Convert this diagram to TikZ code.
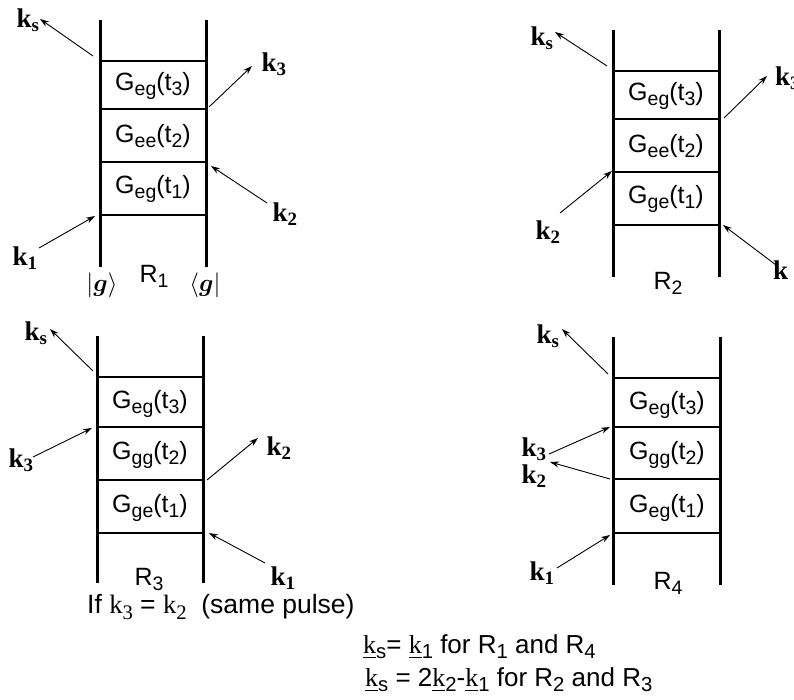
\documentclass[tikz,border=0pt]{standalone}
\usepackage{amsmath}
\usepackage{fontspec}
\setmainfont{Liberation Sans}
\newfontfamily\tms{Liberation Serif}
\usetikzlibrary{arrows.meta}
\makeatletter
\newcommand{\dn}[1]{\raisebox{-0.2em}{\fontsize{\fpeval{0.78*\f@size}}{\fpeval{0.78*\f@size}}\selectfont #1}}
\makeatother
\tikzset{
  rail/.style={line width=3pt},
  rung/.style={line width=1.1pt},
  beam/.style={line width=0.9pt,-{Stealth[length=9pt,width=6pt]}},
  glabel/.style={inner sep=0pt,font=\fontsize{25}{28}\selectfont},
  klabel/.style={inner sep=0pt,font=\tms\bfseries\fontsize{27}{28}\selectfont},
  txt/.style={inner sep=0pt,anchor=west,font=\fontsize{26}{28}\selectfont},
}
\newcommand{\Gl}[2]{G\dn{#1}(t\dn{#2})}
\newcommand{\kk}[1]{k\textsubscript{#1}}
\begin{document}
\begin{tikzpicture}[x=1pt,y=-1pt]
\useasboundingbox (0,0) rectangle (794,700);
% ---------- R1 ----------
\draw[rail] (100,20) -- (100,267);
\draw[rail] (206,20) -- (206,267);
\foreach \y in {61,109,162,215} \draw[rung] (100,\y) -- (206,\y);
\node[glabel] (g13) at (153,86) {\Gl{eg}{3}};
\node[glabel] (g12) at (153,136) {\Gl{ee}{2}};
\node[glabel] (g11) at (153,189) {\Gl{eg}{1}};
\node[klabel] (k1s) at (28,20) {\kk{s}};
\node[klabel] (k13) at (274,64) {\kk{3}};
\node[klabel] (k12) at (285,214) {\kk{2}};
\node[klabel] (k11) at (25,258) {\kk{1}};
\coordinate (a1s0) at (93,56);  \coordinate (a1s1) at (40,19);
\coordinate (a130) at (209,107); \coordinate (a131) at (252,66);
\coordinate (a120) at (267,203); \coordinate (a121) at (211,166);
\coordinate (a110) at (39,248);  \coordinate (a111) at (95,216);
\draw[beam] (a1s0) -- (a1s1);
\draw[beam] (a130) -- (a131);
\draw[beam] (a120) -- (a121);
\draw[beam] (a110) -- (a111);
\node[inner sep=0pt,font=\fontsize{26}{28}\selectfont] (ket) at (102,285) {$\lvert\boldsymbol{g}\rangle$};
\node[inner sep=0pt,font=\fontsize{26}{28}\selectfont] (bra) at (205,285) {$\langle\boldsymbol{g}\rvert$};
\node[glabel] (r1) at (154,276) {R\dn{1}};
% ---------- R2 ----------
\draw[rail] (613,30) -- (613,277);
\draw[rail] (719,30) -- (719,277);
\foreach \y in {71,119,172,225} \draw[rung] (613,\y) -- (719,\y);
\node[glabel] (g23) at (666,96) {\Gl{eg}{3}};
\node[glabel] (g22) at (666,146) {\Gl{ee}{2}};
\node[glabel] (g21) at (666,199) {\Gl{ge}{1}};
\node[klabel] (k2s) at (542,38) {\kk{s}};
\node[klabel,anchor=west] (k23) at (775,78) {\kk{3}};
\node[klabel] (k22) at (548,232) {\kk{2}};
\node[klabel,anchor=west] (k21) at (773,270) {k};
\coordinate (a2s0) at (607,66);  \coordinate (a2s1) at (555,32);
\coordinate (a230) at (724,118); \coordinate (a231) at (767,76);
\coordinate (a220) at (560,213); \coordinate (a221) at (612,171);
\coordinate (a210) at (776,265); \coordinate (a211) at (723,225);
\draw[beam] (a2s0) -- (a2s1);
\draw[beam] (a230) -- (a231);
\draw[beam] (a220) -- (a221);
\draw[beam] (a210) -- (a211);
\node[glabel] (r2) at (668,283) {R\dn{2}};
% ---------- R3 ----------
\draw[rail] (97,336) -- (97,583);
\draw[rail] (203,336) -- (203,583);
\foreach \y in {377,427,480,533} \draw[rung] (97,\y) -- (203,\y);
\node[glabel] (g33) at (150,404) {\Gl{eg}{3}};
\node[glabel] (g32) at (150,455) {\Gl{gg}{2}};
\node[glabel] (g31) at (150,508) {\Gl{ge}{1}};
\node[klabel] (k3s) at (36,333) {\kk{s}};
\node[klabel] (k33) at (21,460) {\kk{3}};
\node[klabel] (k32) at (279,448) {\kk{2}};
\node[klabel] (k31) at (283,578) {\kk{1}};
\coordinate (a3s0) at (93,371);  \coordinate (a3s1) at (50,329);
\coordinate (a330) at (33,457);  \coordinate (a331) at (92,428);
\coordinate (a320) at (207,480); \coordinate (a321) at (258,438);
\coordinate (a310) at (265,563); \coordinate (a311) at (209,533);
\draw[beam] (a3s0) -- (a3s1);
\draw[beam] (a330) -- (a331);
\draw[beam] (a320) -- (a321);
\draw[beam] (a310) -- (a311);
\node[glabel] (r3) at (149,579) {R\dn{3}};
% ---------- R4 ----------
\draw[rail] (613,337) -- (613,585);
\draw[rail] (720,337) -- (720,585);
\foreach \y in {378,427,479,533} \draw[rung] (613,\y) -- (720,\y);
\node[glabel] (g43) at (667,405) {\Gl{eg}{3}};
\node[glabel] (g42) at (667,455) {\Gl{gg}{2}};
\node[glabel] (g41) at (667,508) {\Gl{eg}{1}};
\node[klabel] (k4s) at (548,336) {\kk{s}};
\node[klabel] (k43) at (534,449) {\kk{3}};
\node[klabel] (k42) at (534,476) {\kk{2}};
\node[klabel] (k41) at (542,573) {\kk{1}};
\coordinate (a4s0) at (608,374); \coordinate (a4s1) at (562,329);
\coordinate (a430) at (549,454); \coordinate (a431) at (610,427);
\coordinate (a420) at (610,479); \coordinate (a421) at (550,462);
\coordinate (a410) at (557,568); \coordinate (a411) at (610,535);
\draw[beam] (a4s0) -- (a4s1);
\draw[beam] (a430) -- (a431);
\draw[beam] (a420) -- (a421);
\draw[beam] (a410) -- (a411);
\node[glabel] (r4) at (668,583) {R\dn{4}};
% ---------- notes ----------
\node[txt,font=\fontsize{26.5}{28}\selectfont] (note1) at (87,607) {If {\tms k\dn{3}} = {\tms k\dn{2}}\ \ (same pulse)};
\node[txt] (note2) at (363,647) {\underline{\tms k}\dn{s}= \underline{\tms k}\dn{1} for R\dn{1} and R\dn{4}};
\node[txt] (note3) at (365,680) {\underline{\tms k}\dn{s} = 2\underline{\tms k}\dn{2}-\underline{\tms k}\dn{1} for R\dn{2} and R\dn{3}};
\end{tikzpicture}
\end{document}
